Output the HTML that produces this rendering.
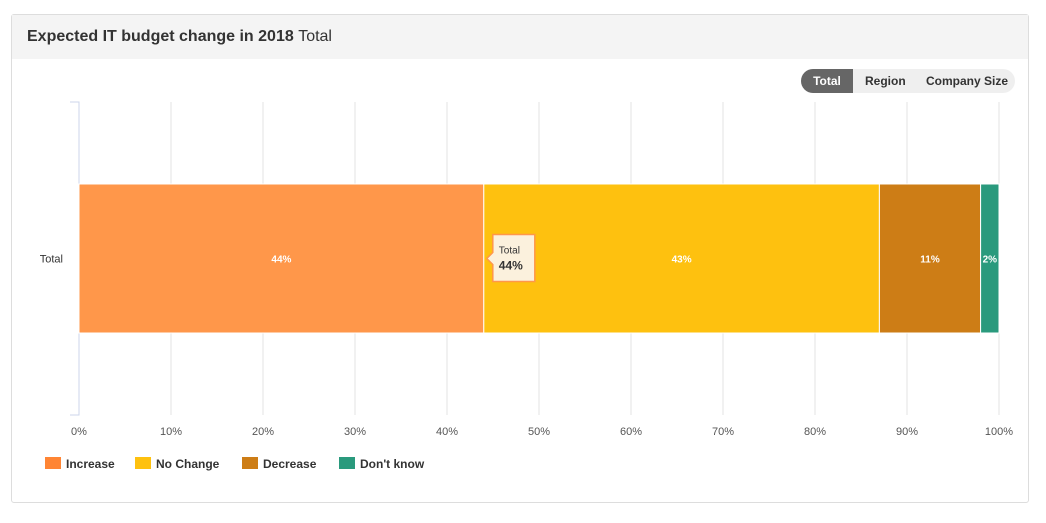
<!DOCTYPE html>
<html><head><meta charset="utf-8"><style>
body{margin:0;width:1046px;height:523px;background:#fff;font-family:"Liberation Sans",sans-serif;position:relative;overflow:hidden}
.card{position:absolute;left:11px;top:14px;width:1018px;height:489px;border:1px solid #ddd;border-radius:3px;box-sizing:border-box}
.hdr{position:absolute;left:0;top:0;right:0;height:44px;background:#f4f4f4}
.title{position:absolute;left:15px;top:13px;font-size:16px;color:#333;font-weight:bold}
.title span{font-weight:normal}
.tabs{position:absolute;left:789px;top:54px;width:214px;height:24px;background:#efefef;border-radius:12px;font-size:12px;font-weight:bold;color:#333}
.tab{position:absolute;top:5px}
.tab.on{left:0;top:0;width:52px;height:24px;line-height:24px;background:#666;color:#fff;border-radius:12px 0 0 12px;text-align:center}
</style></head><body>
<div class="card">
<div class="hdr"><div class="title">Expected IT budget change in 2018 <span>Total</span></div></div>
<div class="tabs">
<div class="tab on">Total</div>
<div class="tab" style="left:64px">Region</div>
<div class="tab" style="left:125px">Company Size</div>
</div>
</div>
<svg id="chart" width="1046" height="523" style="position:absolute;left:0;top:0"></svg>
<script>
const categories=["Total"];
const seriesNames=["Increase","No Change","Decrease","Don't know"];
const seriesColors=["#ff974a","#fec10f","#cd7d16","#2a9a7d"];
const legendColors=["#ff8534","#fec10f","#cd7d16","#2a9a7d"];
const seriesValues=[[44],[43],[11],[2]];
const tickValues=[0,10,20,30,40,50,60,70,80,90,100];
const tickLabels=["0%","10%","20%","30%","40%","50%","60%","70%","80%","90%","100%"];
const NS="http://www.w3.org/2000/svg";
const svg=document.getElementById('chart');
const X0=79,X1=999,YT=102,YB=415;
const x=v=>X0+(X1-X0)*v/100;
function mk(t,a){const e=document.createElementNS(NS,t);for(const k in a)e.setAttribute(k,a[k]);svg.appendChild(e);return e;}
tickValues.forEach((v,i)=>{
 if(v>0){const l=mk('line',{x1:x(v),x2:x(v),y1:YT,y2:YB,stroke:'#e3e3e3','stroke-width':1});
 
 }
 const t=mk('text',{x:x(v),y:435,'text-anchor':'middle','font-size':11,fill:'#555'});t.textContent=tickLabels[i];
 
 
});
const ax=mk('path',{d:`M70 ${YT}H${X0}V${YB}H70`,fill:'none',stroke:'#ccd6eb','stroke-width':1});


const bandH=(YB-YT)/categories.length;
categories.forEach((c,ci)=>{
 const yc=YT+bandH*(ci+0.5),bh=149;
 const cl=mk('text',{x:63,y:yc+4,'text-anchor':'end','font-size':11,fill:'#333'});cl.textContent=c;
 
 
 let acc=0;
 seriesValues.forEach((s,si)=>{
  const v=s[ci];
  const r=mk('rect',{x:x(acc),y:yc-bh/2,width:x(acc+v)-x(acc),height:bh,fill:seriesColors[si],stroke:'#fff','stroke-width':1});
  
  
  const t=mk('text',{x:(x(acc)+x(acc+v))/2,y:yc+4,'text-anchor':'middle','font-size':10,'font-weight':'bold',fill:'#fff'});t.textContent=v+'%';
  
  
  acc+=v;
 });
 // tooltip
 const tx=x(seriesValues[0][ci]);
 const tp=mk('path',{d:`M${tx+3} ${yc}l6 -6V${yc-24}h42v47h-42V${yc+6}z`,fill:'#fbf1dd',stroke:'#ff974a','stroke-width':1.5});
 
 
 const t1=mk('text',{x:tx+15,y:yc-5,'font-size':10,fill:'#333'});t1.textContent=c;
 
 
 const t2=mk('text',{x:tx+15,y:yc+11,'font-size':12,'font-weight':'bold',fill:'#333'});t2.textContent=seriesValues[0][ci]+'%';
 
 
});
const legX=[45,135,242,339];
seriesNames.forEach((n,i)=>{
 const r=mk('rect',{x:legX[i],y:457,width:16,height:12,fill:legendColors[i]});
 
 
 const t=mk('text',{x:legX[i]+21,y:468,'font-size':12,'font-weight':'bold',fill:'#333'});t.textContent=n;
 
 
});
</script>
</body></html>
